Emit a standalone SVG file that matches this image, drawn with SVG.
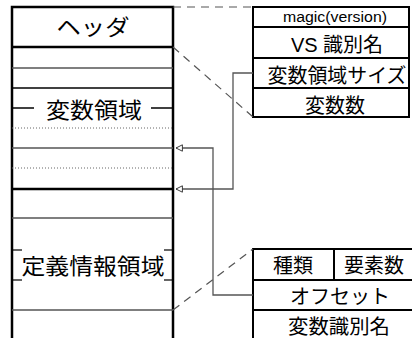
<svg xmlns="http://www.w3.org/2000/svg" width="412" height="338" viewBox="0 0 412 338">
<defs>
<style>
text{font-family:"Liberation Sans","Noto Sans CJK JP",sans-serif;fill:#000;text-anchor:middle}
.big{font-size:22px}
.mid{font-size:20px}
.thick{stroke:#000;stroke-width:2.5;fill:none}
.box{stroke:#000;stroke-width:2;fill:none}
.thin{stroke:#555;stroke-width:1.5;fill:none}
.dot{stroke:#666;stroke-width:1;stroke-dasharray:1 2;fill:none}
.dash{stroke:#555;stroke-width:1.2;stroke-dasharray:8 6;fill:none}
.conn{stroke:#555;stroke-width:1.3;fill:none;marker-end:url(#arr)}
</style>
<marker id="arr" viewBox="0 0 10 10" refX="9" refY="5" markerWidth="8" markerHeight="8" markerUnits="userSpaceOnUse" orient="auto">
<path d="M1,1 L9,5 L1,9 Z" fill="#fff" stroke="#333" stroke-width="1.2"/>
</marker>
</defs>
<g id="memory">
<rect x="12" y="7" width="161" height="340" fill="#fff" class="thick"/>
<line x1="12" y1="47" x2="173" y2="47" class="thick"/>
<text class="big" x="93" y="35" textLength="73" lengthAdjust="spacingAndGlyphs">ヘッダ</text>
<line x1="12" y1="68" x2="173" y2="68" class="thin"/>
<line x1="12" y1="88" x2="173" y2="88" stroke="#000" stroke-width="1.5"/>
<line x1="12" y1="108" x2="34" y2="108" stroke="#000" stroke-width="1.5"/>
<line x1="151" y1="108" x2="173" y2="108" stroke="#000" stroke-width="1.5"/>
<text class="big" x="94" y="118" textLength="96" lengthAdjust="spacingAndGlyphs">変数領域</text>
<line x1="12" y1="128" x2="173" y2="128" class="dot"/>
<line x1="12" y1="148" x2="173" y2="148" class="thin"/>
<line x1="12" y1="168" x2="173" y2="168" class="dot"/>
<line x1="12" y1="189" x2="173" y2="189" class="thick"/>
<line x1="12" y1="218" x2="173" y2="218" class="thin"/>
<line x1="12" y1="250" x2="22" y2="250" stroke="#000" stroke-width="1.2"/>
<line x1="12" y1="280" x2="22" y2="280" stroke="#000" stroke-width="1.2"/>
<line x1="164" y1="250" x2="173" y2="250" stroke="#000" stroke-width="1.2"/>
<line x1="164" y1="280" x2="173" y2="280" stroke="#000" stroke-width="1.2"/>
<text class="big" x="93" y="274" textLength="143" lengthAdjust="spacingAndGlyphs">定義情報領域</text>
<line x1="12" y1="310" x2="173" y2="310" class="thin"/>
</g>
<g id="header">
<rect x="253" y="7" width="156" height="110" fill="#fff" class="box"/>
<line x1="253" y1="27" x2="409" y2="27" class="box"/>
<line x1="253" y1="58" x2="409" y2="58" class="box"/>
<line x1="253" y1="88" x2="409" y2="88" class="box"/>
<text x="335" y="22" font-size="14" textLength="104" lengthAdjust="spacingAndGlyphs">magic(version)</text>
<text class="mid" x="337" y="52">VS 識別名</text>
<text class="mid" x="337" y="83" textLength="139" lengthAdjust="spacingAndGlyphs">変数領域サイズ</text>
<text class="mid" x="335" y="113">変数数</text>
</g>
<g id="definition">
<rect x="253" y="249" width="170" height="100" fill="#fff" class="box"/>
<line x1="334" y1="249" x2="334" y2="280" class="box"/>
<line x1="253" y1="280" x2="423" y2="280" class="box"/>
<line x1="253" y1="310" x2="423" y2="310" class="box"/>
<text class="mid" x="293" y="273">種類</text>
<text class="mid" x="374" y="273">要素数</text>
<text class="mid" x="340" y="304" textLength="100" lengthAdjust="spacingAndGlyphs">オフセット</text>
<text class="mid" x="339" y="334" textLength="102" lengthAdjust="spacingAndGlyphs">変数識別名</text>
</g>
<g id="connectors">
<line x1="173" y1="7" x2="253" y2="7" class="dash"/>
<line x1="173" y1="47" x2="253" y2="117" class="dash"/>
<line x1="173" y1="310" x2="253" y2="249" class="dash"/>
<polyline points="253,73 233,73 233,189 176,189" class="conn"/>
<polyline points="253,295 213,295 213,148 176,148" class="conn"/>
</g>
</svg>
